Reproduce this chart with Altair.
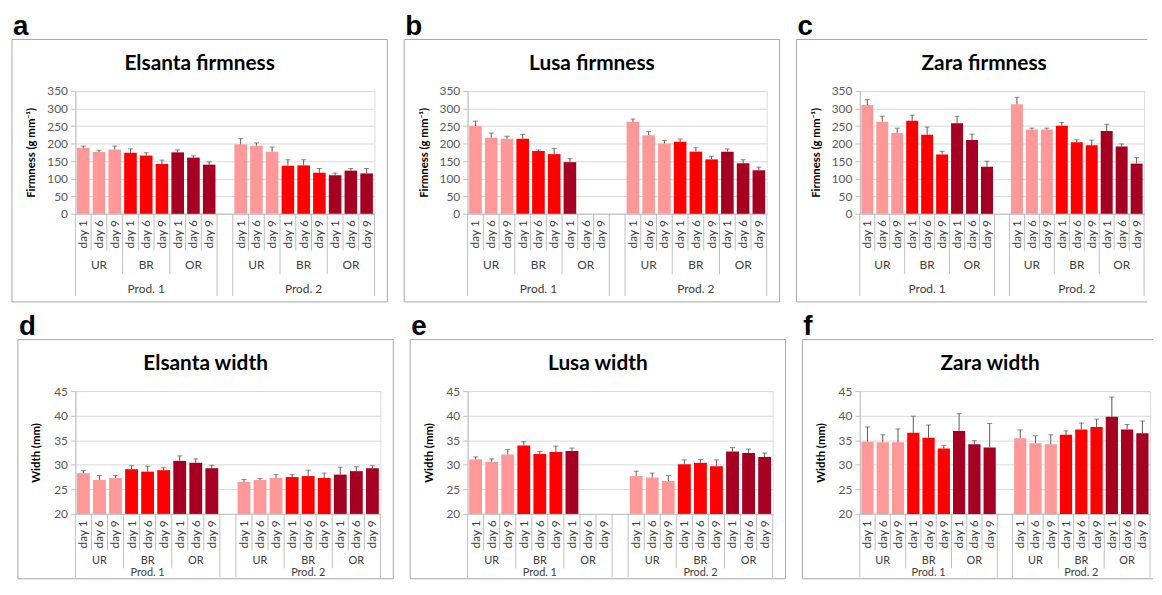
import json
import altair as alt
import pandas as pd

# ---------------- data ----------------
DAYS = ["day 1", "day 6", "day 9"]
STAGES = ["UR", "BR", "OR"]
PRODS = ["Prod. 1", "Prod. 2"]
COLORS = ["#FF9999", "#FF0000", "#A50021"]

# order: Prod.1 UR d1,d6,d9, BR d1,d6,d9, OR d1,d6,d9, then Prod.2 same order
elsanta_firm = [188, 176, 183, 174, 166, 142, 175, 160, 140, 198, 194, 177, 137, 138, 117, 110, 123, 115]
elsanta_firm_err = [5, 5, 10, 11, 8, 11, 7, 5, 8, 16, 8, 13, 17, 16, 12, 6, 6, 14]
lusa_firm = [250, 217, 214, 214, 179, 170, 147, None, None, 262, 224, 200, 205, 177, 155, 177, 144, 124]
lusa_firm_err = [14, 13, 7, 12, 3, 16, 10, None, None, 8, 10, 9, 8, 11, 9, 8, 10, 9]
zara_firm = [310, 262, 230, 265, 225, 169, 258, 210, 134, 312, 240, 240, 251, 204, 195, 236, 192, 143]
zara_firm_err = [15, 16, 14, 16, 22, 9, 20, 17, 16, 20, 4, 4, 9, 7, 15, 19, 7, 17]

elsanta_width = [28.3, 26.9, 27.3, 29.1, 28.6, 28.9, 30.8, 30.4, 29.3, 26.5, 26.9, 27.3, 27.5, 27.7, 27.3, 28.0, 28.7, 29.3]
elsanta_width_err = [0.5, 0.9, 0.5, 0.7, 1.1, 0.5, 1.0, 0.8, 0.6, 0.5, 0.3, 0.7, 0.5, 1.2, 1.0, 1.5, 0.9, 0.5]
lusa_width = [31.1, 30.6, 32.1, 33.9, 32.2, 32.6, 32.8, None, None, 27.7, 27.4, 26.7, 30.1, 30.4, 29.7, 32.7, 32.4, 31.6]
lusa_width_err = [0.5, 0.6, 1.0, 0.8, 0.5, 1.2, 0.6, None, None, 1.0, 0.9, 1.1, 0.9, 0.65, 1.3, 0.8, 0.8, 0.8]
zara_width = [34.7, 34.6, 34.6, 36.5, 35.5, 33.3, 36.9, 34.2, 33.5, 35.4, 34.4, 34.2, 36.1, 37.2, 37.7, 39.8, 37.2, 36.4]
zara_width_err = [3.0, 1.5, 2.7, 3.4, 2.6, 0.6, 3.5, 0.7, 4.9, 1.7, 1.5, 1.9, 0.8, 1.3, 1.6, 4.0, 1.0, 2.5]

FIRM_TITLE = "Firmness (g mm\u207b\u00b9)"
WIDTH_TITLE = "Width (mm)"

# ---------------- styling ----------------
FONT = "Lato"
GRAY_LINE = "#BFBFBF"
FRAME = "#A6A6A6"
GRID = "#D9D9D9"
LABEL = "#595959"
ERR = "#595959"
NSLOT = 19
SLOT_LABELS = DAYS * 3 + [""] + DAYS * 3
PH = 124
FULL_W = 379

TOP_DECO = dict(day=37, grp=61, prod=83, grp_off=52, prod_off=76, bot=89, fs=12)
BOT_DECO = dict(day=37, grp=55, prod=64, grp_off=48, prod_off=60, bot=65.5, fs=11)


def panel(letter, title, ytitle, vals, errs, ymin, ymax, ystep, PW, L, tpad, deco,
          FW=FULL_W, open_right=False):
    rows = []
    for i, (v, e) in enumerate(zip(vals, errs)):
        if v is None:
            continue
        p = i // 9
        s = (i % 9) // 3
        rows.append(dict(slot=i + p, stage=STAGES[s], val=v, hi=v + e))
    df = pd.DataFrame(rows)

    xscale = alt.Scale(domain=list(range(NSLOT)), paddingInner=0, paddingOuter=0)
    xaxis = alt.Axis(title=None, labelExpr=json.dumps(SLOT_LABELS) + "[datum.value]",
                     labelAngle=270, ticks=False, domainColor=GRAY_LINE, labelPadding=6,
                     labelFont=FONT, labelFontSize=12, labelColor="#404040", grid=False)
    X = alt.X("slot:O", scale=xscale, axis=xaxis)

    yscale = alt.Scale(domain=[ymin, ymax], nice=False, zero=False)
    yaxis = alt.Axis(title=ytitle, values=list(range(ymin, ymax + 1, ystep)), grid=True,
                     gridColor=GRID, domainColor=GRAY_LINE, tickColor=GRAY_LINE, tickSize=5,
                     labelPadding=3, labelFont=FONT, labelFontSize=12, labelColor=LABEL,
                     titleFont=FONT, titleFontSize=11.5, titleFontWeight="bold",
                     titleColor="#000000", titlePadding=tpad)

    color = alt.Color("stage:N", scale=alt.Scale(domain=STAGES, range=COLORS), legend=None)

    bars = alt.Chart(df).mark_bar(width=alt.RelativeBandSize(0.8)).encode(
        x=X, y=alt.Y("val:Q", scale=yscale, axis=yaxis), y2=alt.datum(ymin), color=color)
    err = alt.Chart(df).mark_rule(color=ERR, strokeWidth=1).encode(
        x=X, y=alt.Y("val:Q", scale=yscale, axis=yaxis), y2="hi:Q")
    cap = alt.Chart(df).mark_tick(color=ERR, thickness=1, size=5).encode(
        x=X, y=alt.Y("hi:Q", scale=yscale, axis=yaxis))

    # category-axis separators (short: day, medium: stage, long: producer)
    lens = []
    for b in range(NSLOT + 1):
        if b in (0, 9, 10, 19):
            lens.append(deco["prod"])
        elif b in (3, 6, 13, 16):
            lens.append(deco["grp"])
        else:
            lens.append(deco["day"])
    sep_df = pd.DataFrame({"slot": list(range(NSLOT)), "len": lens[:NSLOT]})
    sep_layers = []
    for ln in sorted(set(lens)):
        sub = sep_df[sep_df["len"] == ln]
        if len(sub):
            sep_layers.append(alt.Chart(sub).mark_rule(color=GRAY_LINE, strokeWidth=1).encode(
                x=alt.X("slot:O", scale=xscale, axis=xaxis, bandPosition=0),
                y=alt.value(PH), y2=alt.value(PH + ln)))
    sep_end = pd.DataFrame({"slot": [NSLOT - 1]})
    sep_layers.append(alt.Chart(sep_end).mark_rule(color=GRAY_LINE, strokeWidth=1).encode(
        x=alt.X("slot:O", scale=xscale, axis=xaxis, bandPosition=1),
        y=alt.value(PH), y2=alt.value(PH + lens[NSLOT])))

    grp_df = pd.DataFrame({"slot": [1, 4, 7, 11, 14, 17], "lab": STAGES * 2})
    grp = alt.Chart(grp_df).mark_text(font=FONT, fontSize=deco["fs"], color="#404040").encode(
        x=X, y=alt.value(PH + deco["grp_off"]), text="lab:N")
    prod_df = pd.DataFrame({"slot": [4, 14], "lab": PRODS})
    prod = alt.Chart(prod_df).mark_text(font=FONT, fontSize=deco["fs"], color="#404040").encode(
        x=X, y=alt.value(PH + deco["prod_off"]), text="lab:N")

    one = pd.DataFrame({"k": [0]})
    top_y, bot_y = -52, PH + deco["bot"]
    if open_right:
        frame_layers = [
            alt.Chart(one).mark_rule(color=FRAME, strokeWidth=1).encode(
                x=alt.value(-L), x2=alt.value(-L + FW), y=alt.value(top_y)),
            alt.Chart(one).mark_rule(color=FRAME, strokeWidth=1).encode(
                x=alt.value(-L), x2=alt.value(-L + FW), y=alt.value(bot_y)),
            alt.Chart(one).mark_rule(color=FRAME, strokeWidth=1).encode(
                x=alt.value(-L), y=alt.value(top_y), y2=alt.value(bot_y)),
        ]
    else:
        frame_layers = [alt.Chart(one).mark_rect(fillOpacity=0, stroke=FRAME, strokeWidth=1).encode(
            x=alt.value(-L), x2=alt.value(-L + FW), y=alt.value(top_y), y2=alt.value(bot_y))]
    let = alt.Chart(one).mark_text(align="left", baseline="alphabetic", fontSize=28,
                                   fontWeight="bold", font="Liberation Sans", color="#000").encode(
        x=alt.value(-L + 1), y=alt.value(-57), text=alt.value(letter))
    ttl = alt.Chart(one).mark_text(align="center", baseline="middle", fontSize=21,
                                   fontWeight="bold", font=FONT, color="#000").encode(
        x=alt.value(-L + FULL_W / 2), y=alt.value(-27), text=alt.value(title))

    return alt.layer(*frame_layers, bars, err, cap, *sep_layers, grp, prod, let, ttl).properties(
        width=PW, height=PH)


top = alt.hconcat(
    panel("a", "Elsanta firmness", FIRM_TITLE, elsanta_firm, elsanta_firm_err, 0, 350, 50, 302, 64, 10, TOP_DECO),
    panel("b", "Lusa firmness", FIRM_TITLE, lusa_firm, lusa_firm_err, 0, 350, 50, 302, 64, 10, TOP_DECO),
    panel("c", "Zara firmness", FIRM_TITLE, zara_firm, zara_firm_err, 0, 350, 50, 287, 64, 10, TOP_DECO,
          FW=354, open_right=True),
    spacing=15)
bottom = alt.hconcat(
    panel("d", "Elsanta width", WIDTH_TITLE, elsanta_width, elsanta_width_err, 20, 45, 5, 308, 58, 12, BOT_DECO),
    panel("e", "Lusa width", WIDTH_TITLE, lusa_width, lusa_width_err, 20, 45, 5, 308, 58, 12, BOT_DECO),
    panel("f", "Zara width", WIDTH_TITLE, zara_width, zara_width_err, 20, 45, 5, 293, 58, 12, BOT_DECO,
          FW=354, open_right=True),
    spacing=15)

chart = alt.vconcat(top, bottom, spacing=9).properties(
    padding={"left": 3, "top": 1, "right": 0, "bottom": 0}
).configure_view(stroke=None).configure(background="white")

chart.save("out.html", embed_options={"renderer": "svg", "actions": False})
